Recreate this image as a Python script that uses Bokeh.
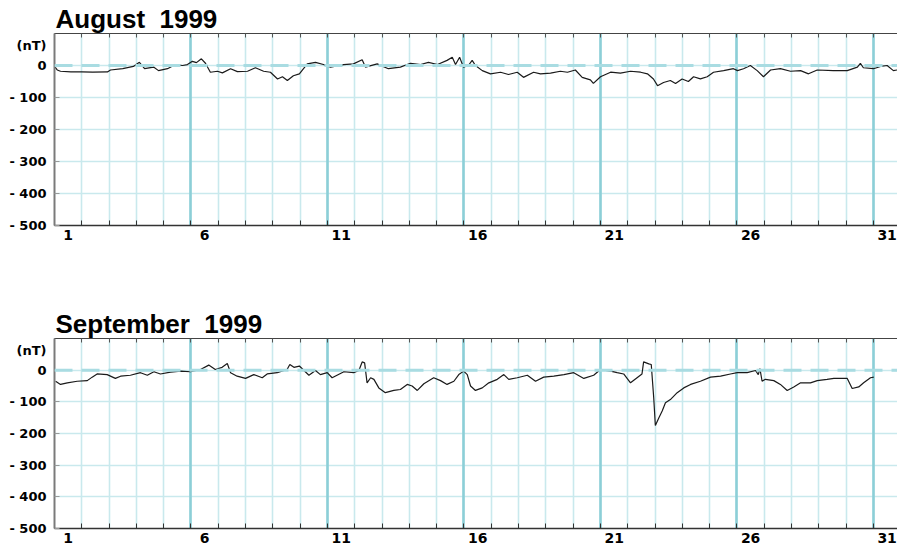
from bokeh.plotting import figure
from bokeh.layouts import column
from bokeh.models import (FixedTicker, CustomJSTickFormatter, LinearAxis, Grid,
                          Span, Range1d)
from bokeh.embed import file_html
from bokeh.resources import INLINE

# ---- data (x = day of month, fractional; value = Dst in nT) ----
AUG_DAY = [1.00, 1.10, 1.22, 1.6, 2.0, 2.4, 2.94, 3.05, 3.5, 3.89, 4.11, 4.30, 4.63, 4.81,
           5.14, 5.43, 5.69, 5.87, 6.05, 6.20, 6.38, 6.53, 6.71, 6.97, 7.15, 7.45, 7.70,
           8.07, 8.36, 8.66, 8.91, 9.17, 9.35, 9.53, 9.75, 9.97,
           10.26, 10.56, 10.85, 11.11, 11.59, 11.95, 12.27, 12.39, 12.82, 13.23, 13.67,
           14.04, 14.41, 14.70, 15.03, 15.38, 15.57, 15.69, 15.84, 15.98, 16.16, 16.30,
           16.42, 16.67, 16.97, 17.34, 17.63, 17.95, 18.18, 18.55, 18.80, 19.17, 19.53,
           19.79, 20.08, 20.33, 20.63, 20.74, 21.0,
           21.37, 21.73, 22.10, 22.47, 22.72, 22.94, 23.09, 23.31, 23.56, 23.75, 23.99,
           24.22, 24.41, 24.66, 24.91, 25.14, 25.51, 25.87, 26.02, 26.24, 26.49, 26.74,
           26.97, 27.23, 27.59, 27.96, 28.33, 28.62, 28.94, 29.53, 30.04, 30.41, 30.52,
           30.63, 31.0, 31.26, 31.50, 31.73, 32.0]
AUG_DST = [-3, -14, -18, -20, -20, -21, -20, -14, -10, -3, 10, -10, -5, -16,
           -10, 3, 0, 3, 13, 9, 21, 7, -21, -18, -23, -10, -19,
           -18, -7, -18, -21, -42, -35, -47, -32, -26,
           5, 10, 3, -5, 3, 5, 18, -5, 5, -10, -5,
           7, 3, 10, 3, 16, 26, 3, 26, -5, 0, 16,
           0, -16, -26, -21, -28, -21, -37, -21, -26, -24, -18,
           -21, -14, -37, -45, -56, -35,
           -21, -24, -18, -21, -26, -42, -63, -53, -47, -56, -42,
           -50, -35, -42, -35, -21, -16, -10, -16, -10, 0, -16,
           -35, -14, -10, -18, -16, -26, -14, -16, -16, -5, 7,
           -7, -10, -3, 0, -16, -12]

SEP_DAY = [1.04, 1.22, 1.47, 1.83, 2.2, 2.38, 2.56, 2.93, 3.23, 3.42, 3.78, 4.15, 4.40,
           4.64, 4.88, 5.25, 5.62, 5.98, 6.35, 6.65, 6.89, 7.14, 7.33, 7.45, 7.69, 8.0,
           8.30, 8.61, 8.79, 9.16, 9.52, 9.62, 9.77, 9.97,
           10.32, 10.56, 10.74, 10.99, 11.17, 11.60, 11.96, 12.15, 12.27, 12.36, 12.45,
           12.58, 12.70, 12.88, 13.12, 13.43, 13.67, 13.92, 14.10, 14.29, 14.53, 14.89,
           15.14, 15.38, 15.63, 15.81, 15.99, 16.12, 16.24, 16.42, 16.67, 16.91, 17.22,
           17.46, 17.64, 17.95, 18.32, 18.62, 18.92, 19.29, 19.66, 20.02, 20.39, 20.75,
           21.0, 21.37, 21.61, 21.85, 22.10, 22.34, 22.52, 22.58, 22.77, 22.86, 22.95,
           23.01, 23.14, 23.26, 23.38, 23.56, 23.81, 24.05, 24.30, 24.66, 25.03, 25.40,
           25.76, 26.01, 26.37, 26.68, 26.78, 26.84, 26.92, 27.04, 27.35, 27.59, 27.84,
           28.08, 28.33, 28.69, 28.94, 29.30, 29.55, 30.04, 30.22, 30.46, 30.64, 30.89,
           31.01]
SEP_DST = [-35, -45, -40, -35, -33, -22, -12, -14, -26, -19, -16, -8, -16,
           -5, -12, -6, -3, -5, 2, 16, 2, 9, 21, -8, -19, -26,
           -14, -24, -12, -8, 2, 18, 9, 13,
           -16, -1, -14, -8, -24, -5, -8, -1, 26, 23, -40,
           -24, -29, -56, -71, -64, -61, -45, -50, -64, -43, -24,
           -33, -45, -35, -14, -3, -14, -50, -64, -56, -40, -29,
           -14, -29, -24, -16, -35, -22, -19, -14, -8, -26, -16,
           2, -3, -8, -12, -40, -24, -12, 26, 20, 18, -87,
           -175, -150, -129, -103, -93, -71, -56, -45, -35, -22, -19,
           -12, -8, -8, -1, -14, 5, -35, -29, -33, -45, -64,
           -53, -40, -40, -33, -29, -26, -26, -58, -53, -40, -24,
           -22]

LABEL_DAYS = [1, 6, 11, 16, 21, 26, 31]
BOLD_DAYS = [6, 11, 16, 21, 26, 31]
Y_TICKS = [-500, -400, -300, -200, -100, 0]
Y_GRID = [-500, -400, -300, -200, -100, 0, 100]
UNIT_POS = 62  # where the "(nT)" caption sits on the value axis
X_START, X_END = 1, 31.88
Y_MIN, Y_MAX = -500, 100


def panel(title, days, dst, top, frame_h, bottom):
    height = top + frame_h + bottom
    p = figure(width=897, height=height, output_backend="svg", toolbar_location=None,
               x_range=Range1d(X_START, X_END), y_range=Range1d(Y_MIN, Y_MAX),
               x_axis_type=None, y_axis_type=None,
               min_border_left=54, min_border_right=0,
               min_border_top=top, min_border_bottom=bottom)
    p.outline_line_color = None
    p.background_fill_color = "white"
    p.border_fill_color = "white"

    p.title.text = title
    p.title.align = "left"
    p.title.offset = 1
    p.title.standoff = 0
    p.title.text_font = "Liberation Sans"
    p.title.text_font_style = "bold"
    p.title.text_font_size = "26px"
    p.title.text_color = "black"

    # grids
    p.add_layout(Grid(dimension=0, ticker=FixedTicker(ticks=list(range(1, 33))),
                      grid_line_color="#c9e9ed", grid_line_width=1.6))
    p.add_layout(Grid(dimension=1, ticker=FixedTicker(ticks=Y_GRID),
                      grid_line_color="#c9e9ed", grid_line_width=1.6))
    p.add_layout(Grid(dimension=0, ticker=FixedTicker(ticks=BOLD_DAYS),
                      grid_line_color="#8ccfd7", grid_line_width=2.6))
    p.add_layout(Span(location=0, dimension="width", line_color="#a9dce2",
                      line_width=3, line_dash="18 9"))

    # axes
    xa = LinearAxis(ticker=FixedTicker(ticks=[d + 0.5 for d in LABEL_DAYS],
                                       minor_ticks=list(range(1, 33))),
                    formatter=CustomJSTickFormatter(code="return String(Math.floor(tick));"))
    xa.major_tick_in = 0
    xa.major_tick_out = 0
    xa.minor_tick_in = 5
    xa.minor_tick_out = 0
    xa.minor_tick_line_color = "#333333"
    xa.axis_line_color = "#333333"
    xa.axis_line_width = 1.5
    xa.major_label_text_font = "DejaVu Sans"
    xa.major_label_text_font_style = "bold"
    xa.major_label_text_font_size = "14px"
    xa.major_label_text_color = "black"
    xa.major_label_standoff = 4
    p.add_layout(xa, "below")

    ta = LinearAxis(ticker=FixedTicker(ticks=[], minor_ticks=list(range(1, 33))))
    ta.major_tick_in = 0
    ta.major_tick_out = 0
    ta.minor_tick_in = 4
    ta.minor_tick_out = 0
    ta.minor_tick_line_color = "#555555"
    ta.axis_line_color = "#444444"
    ta.axis_line_width = 1
    ta.major_label_text_font_size = "0px"
    ta.major_label_standoff = 0
    p.add_layout(ta, "above")

    ya = LinearAxis(ticker=FixedTicker(ticks=Y_TICKS + [UNIT_POS], minor_ticks=Y_TICKS),
                    formatter=CustomJSTickFormatter(
                        code="if (tick > 50) { return '(nT)'; } "
                             "return tick < 0 ? '- ' + String(-tick) : String(tick);"))
    ya.major_tick_in = 0
    ya.major_tick_out = 0
    ya.minor_tick_in = 5
    ya.minor_tick_out = 0
    ya.minor_tick_line_color = "#999999"
    ya.axis_line_color = "#7a7a7a"
    ya.axis_line_width = 2
    ya.major_label_text_font = "DejaVu Sans"
    ya.major_label_text_font_style = "bold"
    ya.major_label_text_font_size = "13px"
    ya.major_label_text_color = "black"
    ya.major_label_standoff = 8
    p.add_layout(ya, "left")

    p.line(days, dst, line_color="#1a1a1a", line_width=1.2)
    return p


p1 = panel("August\u00a0 1999", AUG_DAY, AUG_DST, top=33, frame_h=192, bottom=75)
p2 = panel("September\u00a0 1999", SEP_DAY, SEP_DST, top=38, frame_h=190, bottom=21)

layout = column(p1, p2)
open("out.html", "w").write(file_html(layout, INLINE))
